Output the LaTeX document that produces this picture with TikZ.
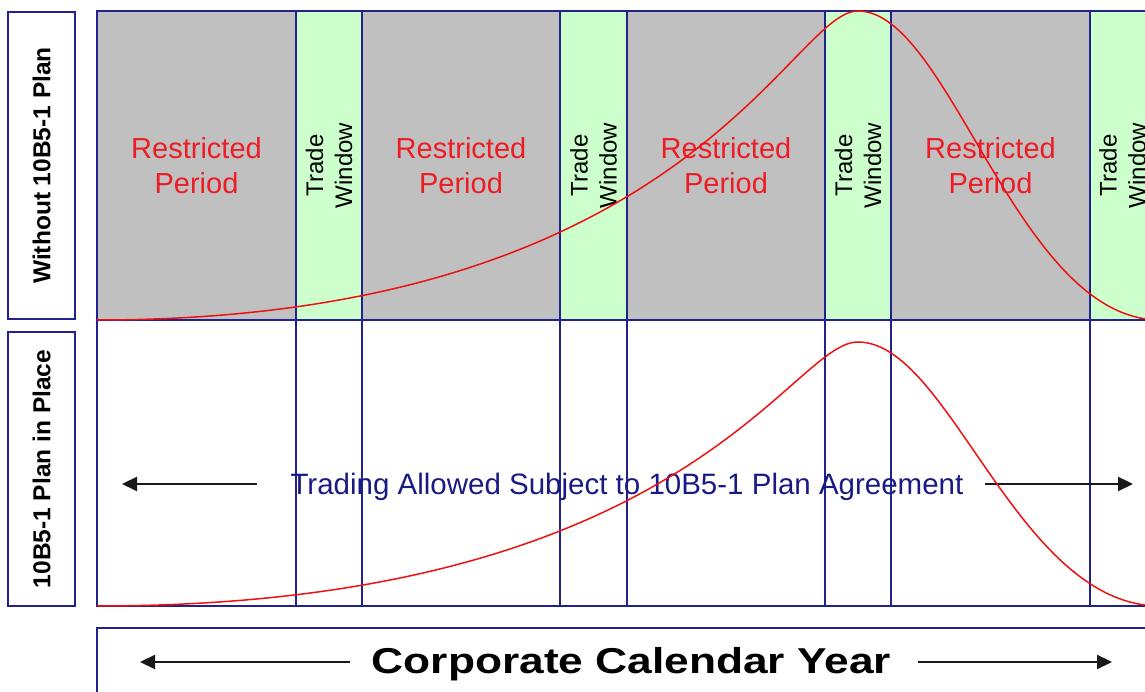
\documentclass[tikz,border=0pt]{standalone}
\usepackage{fontspec}
\setmainfont{Liberation Sans}
\usetikzlibrary{arrows.meta}

\definecolor{restrictgray}{HTML}{C0C0C0}
\definecolor{windowgreen}{HTML}{CCFFCC}
\definecolor{gridblue}{HTML}{22228F}
\definecolor{curvered}{HTML}{EE1111}
\definecolor{labelred}{HTML}{EE1C24}
\definecolor{planblue}{HTML}{1A1A85}

% normalised activity profile over the calendar year (peak = 1)
\newcommand\activityprofile{(97,0) .. controls (690,0) and (790,1) .. (858,1)
  .. controls (950,1) and (1017,0) .. (1160,0)}

\begin{document}
\begin{tikzpicture}[x=1pt,y=1pt,
  frame/.style={draw=gridblue, line width=1.8pt},
  rowlabel/.style={draw=gridblue, line width=1.8pt, fill=white, rotate=90,
    font=\bfseries\fontsize{24.5}{29}\selectfont, inner sep=0pt},
  restricted/.style={font=\fontsize{29}{35}\selectfont, text=labelred, align=center},
  windowtext/.style={font=\fontsize{24}{29}\selectfont, rotate=90, align=center},
  plantext/.style={font=\fontsize{29.5}{35}\selectfont, text=planblue},
  yeartext/.style={font=\bfseries\fontsize{36}{40}\selectfont, xscale=1.23},
  span/.style={-{Triangle[length=15pt,width=14pt]}, line width=2.2pt, draw=black!90},
  profile/.style={draw=curvered, line width=1.5pt}]

\useasboundingbox (0,0) rectangle (1145,692);
\clip (0,0) rectangle (1145,692);

% blackout periods and trade windows
\fill[restrictgray] (97,372) rectangle (1160,681);
\foreach \w in {296,560.5,825,1090}
  \fill[windowgreen] (\w,372) rectangle ++(66,309);

% panel frames and period boundaries
\draw[frame] (97,372) rectangle (1170,681);
\draw[frame] (97,86) rectangle (1170,372);
\foreach \b in {296,362,560,627,825,891,1090}
  \draw[frame] (\b,86) -- (\b,681);
\draw[frame] (97,64) rectangle (1170,-10);

% row captions
\node[rowlabel, minimum width=307pt, minimum height=67pt] (without) at (41.5,526.5) {Without 10B5-1 Plan};
\node[rowlabel, minimum width=274pt, minimum height=67pt] (withplan) at (41.5,223) {10B5-1 Plan in Place};

% period labels
\node[restricted] (rp1) at (196.5,526.5) {Restricted\\Period};
\node[restricted] (rp2) at (461,526.5) {Restricted\\Period};
\node[restricted] (rp3) at (726,526.5) {Restricted\\Period};
\node[restricted] (rp4) at (990.5,526.5) {Restricted\\Period};
\node[windowtext] (tw1) at (329,526.5) {Trade\\Window};
\node[windowtext] (tw2) at (593.5,526.5) {Trade\\Window};
\node[windowtext] (tw3) at (858,526.5) {Trade\\Window};
\node[windowtext] (tw4) at (1122.5,526.5) {Trade\\Window};

% plan row
\node[plantext] (allowed) at (627,205) {Trading Allowed Subject to 10B5-1 Plan Agreement};
\coordinate (allowL) at (122,208);
\coordinate (allowR) at (1133,208);
\draw[span] ([xshift=-30pt]allowed.west |- allowL) -- (allowL);
\draw[span] ([xshift=18pt]allowed.east |- allowR) -- (allowR);

% calendar axis
\node[yeartext] (year) at (631.5,28) {Corporate Calendar Year};
\coordinate (yearL) at (140,30);
\coordinate (yearR) at (1112,30);
\draw[span] ([xshift=-18pt]year.west |- yearL) -- (yearL);
\draw[span] ([xshift=23pt]year.east |- yearR) -- (yearR);

% activity curves
\begin{scope}[shift={(0,372)}, yscale=309]
  \draw[profile] \activityprofile;
\end{scope}
\begin{scope}[shift={(0,86)}, yscale=264]
  \draw[profile] \activityprofile;
\end{scope}
\end{tikzpicture}
\end{document}
